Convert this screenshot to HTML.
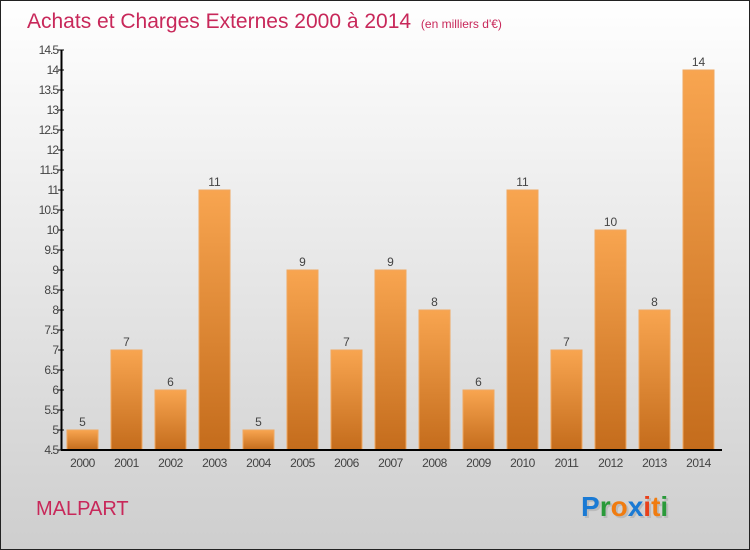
<!DOCTYPE html>
<html><head><meta charset="utf-8"><style>
body{margin:0}
#wrap{position:relative;width:748px;height:548px;border:1px solid #222;background:linear-gradient(#fff,#f5f5f5 20%,#cecece);font-family:"Liberation Sans",sans-serif;overflow:hidden}
</style></head><body>
<div id="wrap">
<svg id="s" width="748" height="548" xmlns="http://www.w3.org/2000/svg">
<defs><linearGradient id="g" x1="0" y1="0" x2="0" y2="1"><stop offset="0" stop-color="#f8a550"/><stop offset="1" stop-color="#c46c1c"/></linearGradient></defs>
<text x="26" y="27" font-size="21" fill="#c8285a">Achats et Charges Externes 2000 à 2014 <tspan font-size="12" dx="4">(en milliers d'€)</tspan></text>
<text x="35" y="514" font-size="20" fill="#c8285a">MALPART</text>
<g font-size="28" font-weight="bold" font-family="'Liberation Sans',sans-serif">
<text x="582" y="517" fill="#bbb">Proxiti</text>
<text x="580" y="515"><tspan fill="#1a7ad4">P</tspan><tspan fill="#2a9a3a">r</tspan><tspan fill="#f07c10">o</tspan><tspan fill="#1a7ad4">x</tspan><tspan fill="#e8401a">i</tspan><tspan fill="#f07c10">t</tspan><tspan fill="#2a9a3a">i</tspan></text></g>
<g id="plot"></g>
</svg></div>
<script>
const categories=["2000","2001","2002","2003","2004","2005","2006","2007","2008","2009","2010","2011","2012","2013","2014"];
const values=[5,7,6,11,5,9,7,9,8,6,11,7,10,8,14];
const ticks=[4.5,5,5.5,6,6.5,7,7.5,8,8.5,9,9.5,10,10.5,11,11.5,12,12.5,13,13.5,14,14.5];
const NS="http://www.w3.org/2000/svg",p=document.getElementById('plot');
const y=v=>449-(v-4.5)*40, x=i=>81.5+i*44;
function el(t,a,txt){const e=document.createElementNS(NS,t);for(const k in a)e.setAttribute(k,a[k]);if(txt!=null)e.textContent=txt;p.appendChild(e);return e;}
categories.forEach((c,i)=>{
 const b=el('rect',{x:x(i)-15.5,y:y(values[i]),width:31,height:y(4.5)-y(values[i]),fill:'url(#g)',stroke:'#f0a860','stroke-width':1});
 
 
 const l=el('text',{x:x(i),y:y(values[i])-4,'text-anchor':'middle','font-size':12,fill:'#444'},values[i]);
 
 
 const t=el('text',{x:x(i),y:466,'text-anchor':'middle','font-size':12,fill:'#444','letter-spacing':'-0.5'},c);
 
 
});
ticks.forEach(v=>{
 el('line',{x1:57,x2:63,y1:y(v),y2:y(v),stroke:'#000'});
 const t=el('text',{x:57,y:y(v)+4,'text-anchor':'end','font-size':12,fill:'#444','letter-spacing':'-1'},v);
 
 
});
const ya=el('line',{x1:60.5,x2:60.5,y1:y(14.5),y2:y(4.5),stroke:'#000','stroke-width':2});


const xa=el('line',{x1:60,x2:721,y1:y(4.5),y2:y(4.5),stroke:'#000','stroke-width':2});


</script></body></html>
